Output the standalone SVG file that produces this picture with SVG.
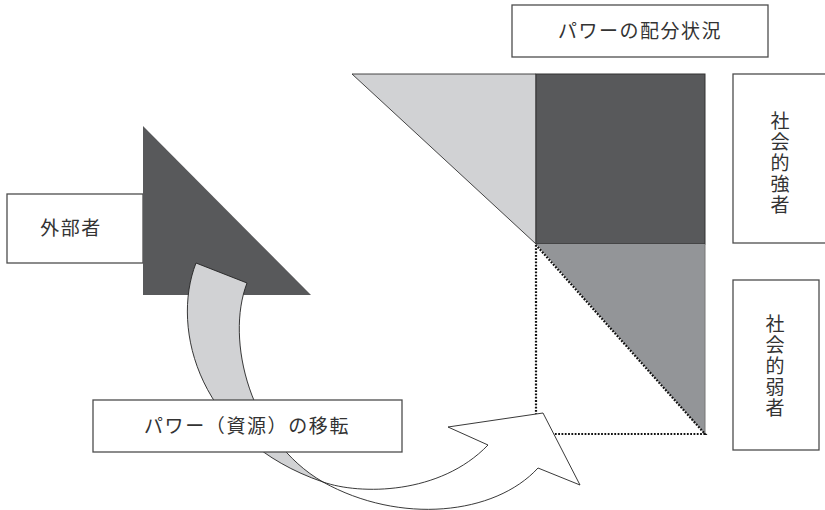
<svg xmlns="http://www.w3.org/2000/svg" width="825" height="510" viewBox="0 0 825 510">
<style>
.box{fill:#fff;stroke:#4d4d4d;stroke-width:1.3}
.lbl{font-family:"Noto Sans CJK JP","Noto Sans",sans-serif;font-size:19px;fill:#333}
.vert{writing-mode:vertical-rl;letter-spacing:2px}
.dot{fill:none;stroke:#111;stroke-width:2.2;stroke-dasharray:1.8 1.5}
.band{stroke:#222;stroke-width:0.9}
</style>
<g id="power-distribution">
<polygon points="352,74 536,74 536,244" fill="#d1d2d4" stroke="#333" stroke-width="0.9"/>
<rect x="536" y="74" width="169" height="170" fill="#58595b" stroke="#333" stroke-width="1"/>
<polygon points="536,244 705,244 705,434" fill="#939598"/>
<line x1="705" y1="244" x2="705" y2="434" stroke="#777" stroke-width="1"/>
<path class="dot" d="M536,245 L536,434 L705,434 L536,245"/>
</g>
<g id="title-box">
<rect class="box" x="512" y="5" width="256" height="52"/>
<text class="lbl" x="640" y="38" text-anchor="middle" letter-spacing="1.5">パワーの配分状況</text>
</g>
<g id="strong-box">
<rect class="box" x="733" y="74" width="100" height="169"/>
<text class="lbl vert" x="780" y="111">社会的強者</text>
</g>
<g id="weak-box">
<rect class="box" x="733" y="280" width="86" height="170"/>
<text class="lbl vert" x="775" y="314">社会的弱者</text>
</g>
<g id="outsider">
<rect class="box" x="7" y="194" width="136" height="69"/>
<text class="lbl" x="71" y="235" text-anchor="middle" letter-spacing="1.5">外部者</text>
<polygon points="143,126 143,295 311,295" fill="#58595b"/>
</g>
<g id="connectors">
<path class="band" fill="#d1d2d4" d="M196,263 C170,330 200,440 323,482 C250,440 225,340 247,283 Z"/>
</g>
<g id="transfer-box">
<rect class="box" x="93" y="400" width="309" height="52"/>
<text class="lbl" x="247" y="433" text-anchor="middle" letter-spacing="1.6">パワー（資源）の移転</text>
</g>
<g id="arrow">
<path class="band" fill="#fff" d="M323,482 C360,495 440,495 488,445 L448,427 L543,413 L580,485 L538,468 C495,515 400,525 323,482 Z"/>
</g>
</svg>
